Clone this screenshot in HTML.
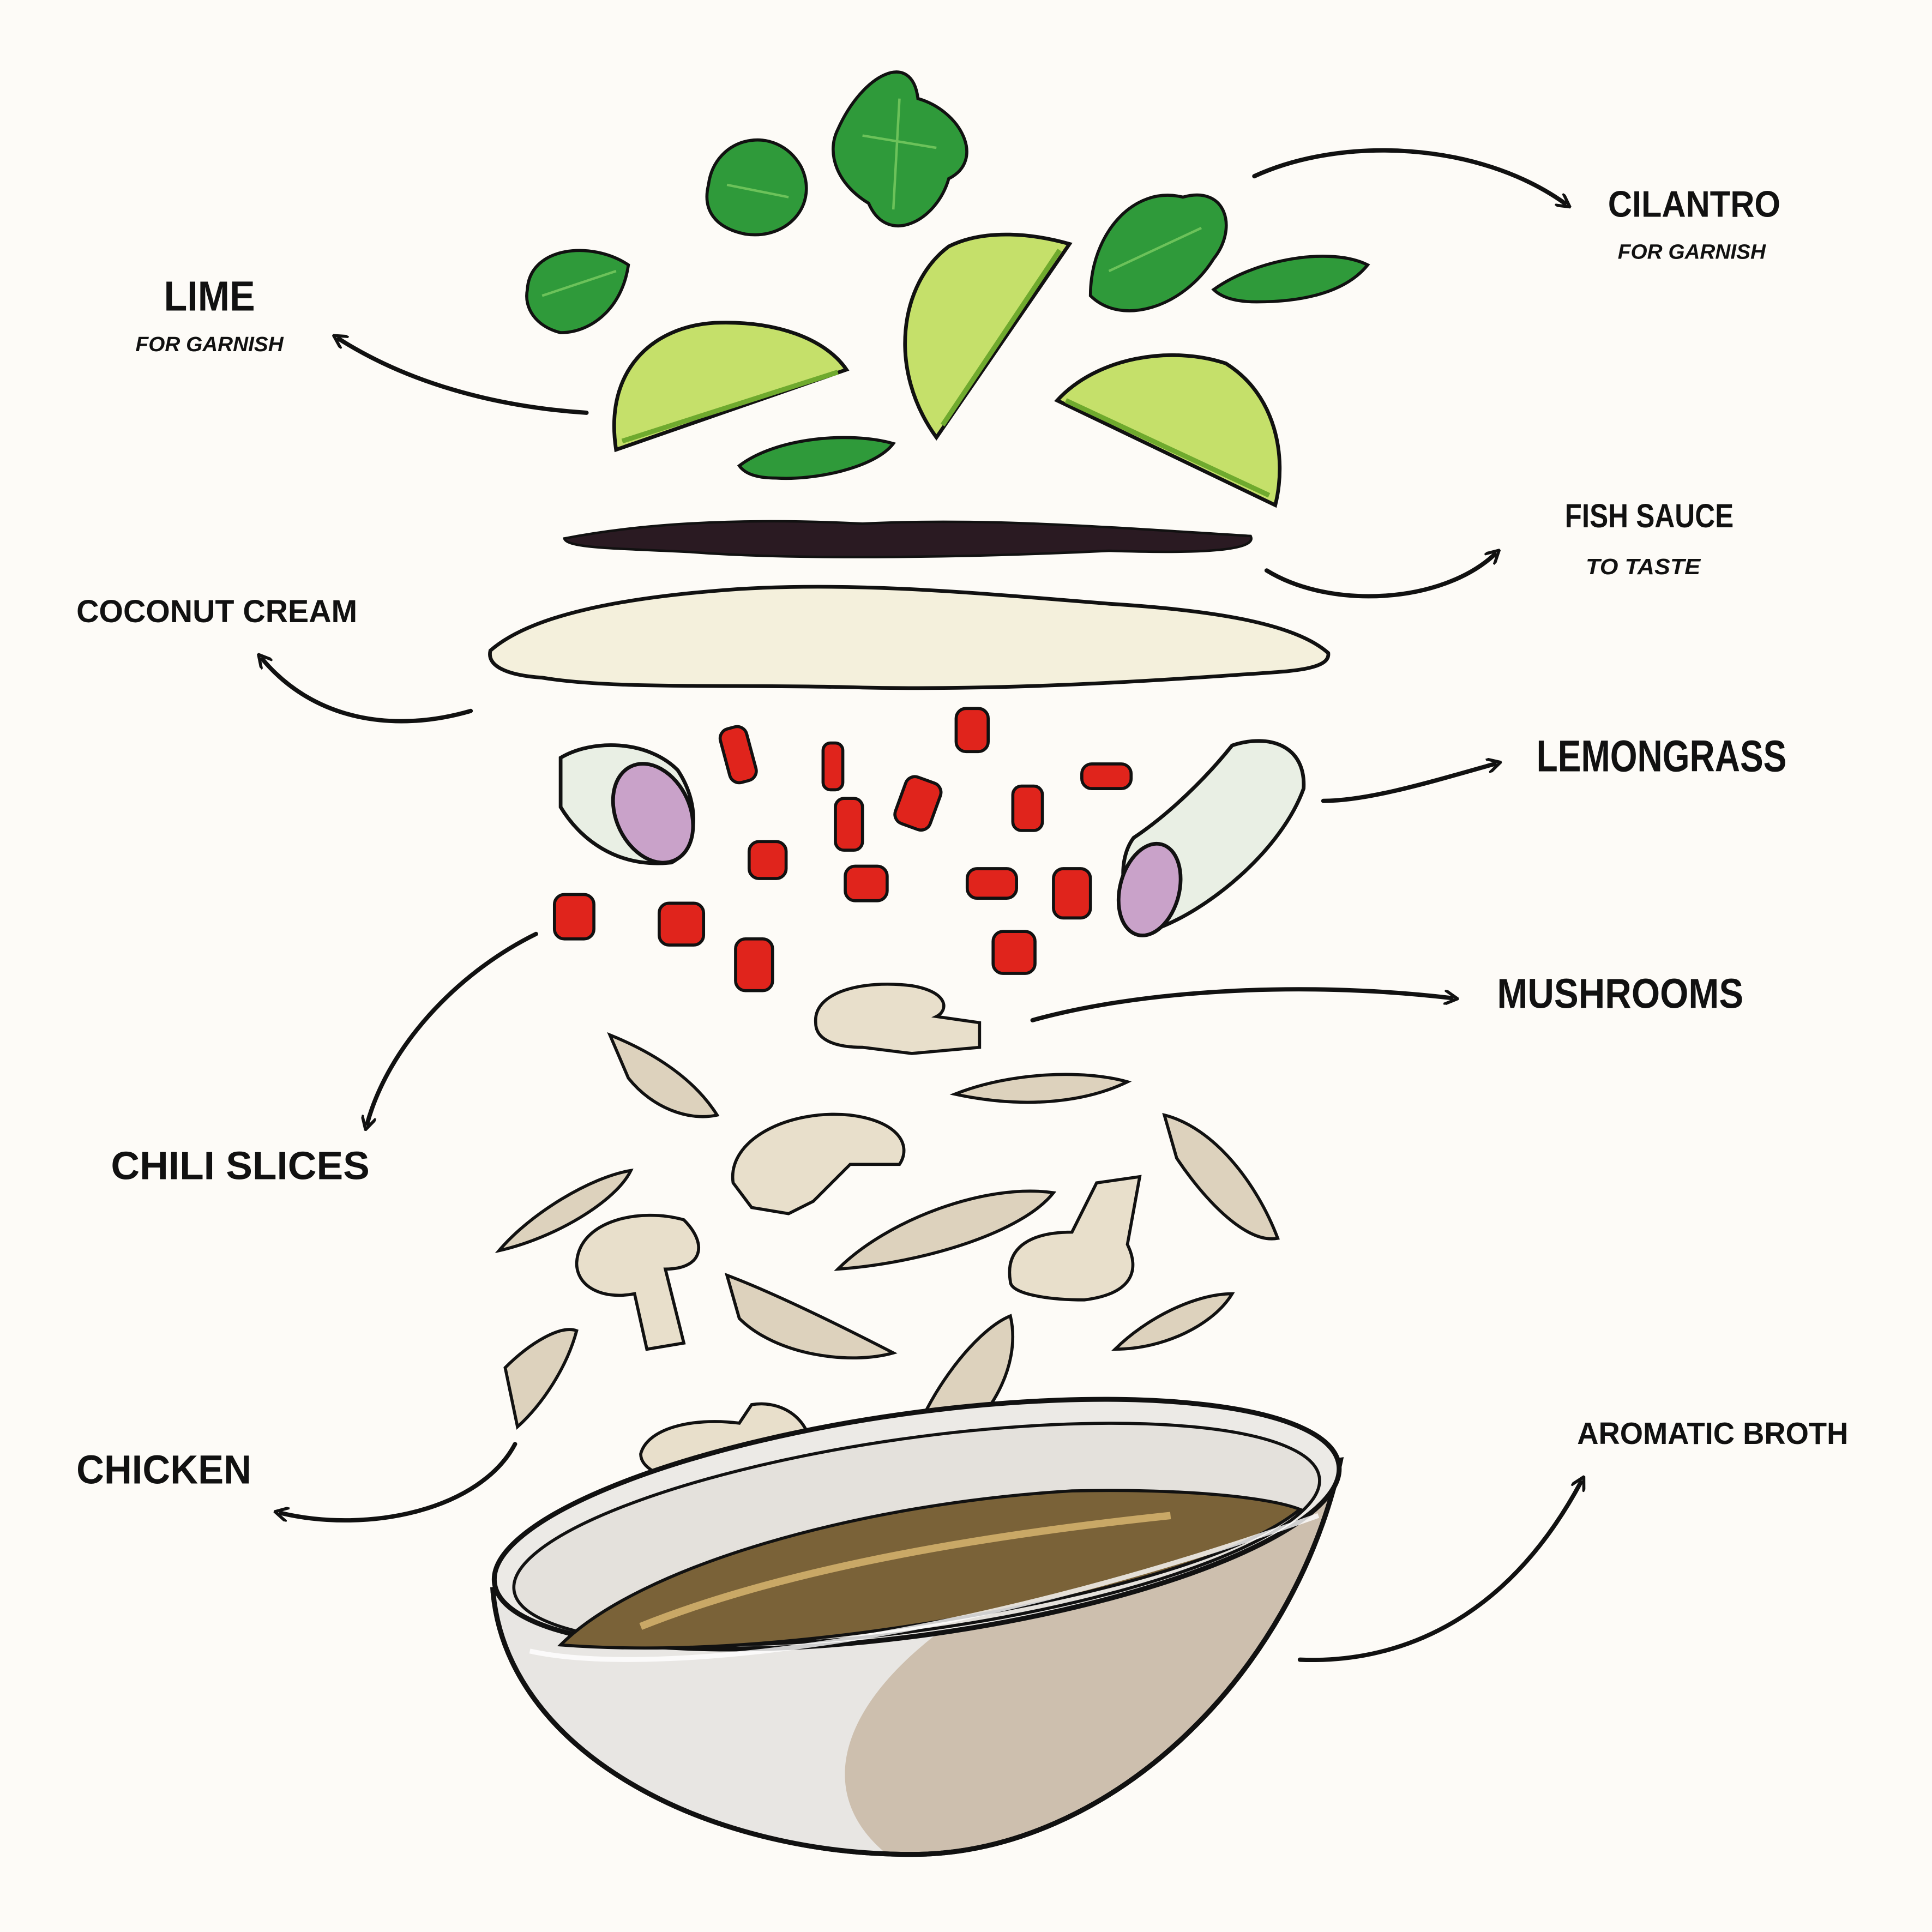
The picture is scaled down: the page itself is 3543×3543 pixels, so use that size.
<!DOCTYPE html>
<html><head><meta charset="utf-8"><style>
html,body{margin:0;padding:0;background:#fdfbf7;}
svg{display:block;}
text{font-family:"Liberation Sans",sans-serif;font-weight:bold;fill:#111;}
</style></head><body>
<svg width="3543" height="3543" viewBox="0 0 1568 1568" xmlns="http://www.w3.org/2000/svg">
<defs>
<marker id="ah" markerWidth="12" markerHeight="12" refX="6" refY="6" orient="auto" markerUnits="userSpaceOnUse" viewBox="0 0 12 12"><path d="M0,0 L11,6 L0,12" fill="none" stroke="#111" stroke-width="2.5" stroke-linecap="round"/></marker>
</defs>
<rect width="1568" height="1568" fill="#fdfbf7"/>
<g fill="none" stroke="#111" stroke-width="3.5" stroke-linecap="round">
<path d="M476,335 C400,330 330,310 275,275" marker-end="url(#ah)"/>
<path d="M1018,143 C1090,110 1200,115 1270,165" marker-end="url(#ah)"/>
<path d="M1028,463 C1080,495 1170,490 1213,450" marker-end="url(#ah)"/>
<path d="M382,577 C320,595 255,585 213,535" marker-end="url(#ah)"/>
<path d="M1074,650 C1110,650 1160,635 1213,620" marker-end="url(#ah)"/>
<path d="M838,828 C920,805 1050,795 1178,810" marker-end="url(#ah)"/>
<path d="M435,758 C370,790 315,850 298,912" marker-end="url(#ah)"/>
<path d="M418,1172 C390,1225 300,1245 228,1228" marker-end="url(#ah)"/>
<path d="M1055,1347 C1130,1350 1220,1320 1283,1203" marker-end="url(#ah)"/>
</g>
<text x="133" y="252" font-size="34" textLength="74" lengthAdjust="spacingAndGlyphs">LIME</text>
<text x="110" y="285" font-size="17" font-style="italic" textLength="120" lengthAdjust="spacingAndGlyphs">FOR GARNISH</text>
<text x="1305" y="176" font-size="30" textLength="140" lengthAdjust="spacingAndGlyphs">CILANTRO</text>
<text x="1313" y="210" font-size="17" font-style="italic" textLength="120" lengthAdjust="spacingAndGlyphs">FOR GARNISH</text>
<text x="1270" y="428" font-size="27" textLength="137" lengthAdjust="spacingAndGlyphs">FISH SAUCE</text>
<text x="1287" y="466" font-size="18" font-style="italic" textLength="93" lengthAdjust="spacingAndGlyphs">TO TASTE</text>
<text x="62" y="505" font-size="26" textLength="228" lengthAdjust="spacingAndGlyphs">COCONUT CREAM</text>
<text x="1247" y="626" font-size="36" textLength="203" lengthAdjust="spacingAndGlyphs">LEMONGRASS</text>
<text x="1215" y="818" font-size="34" textLength="200" lengthAdjust="spacingAndGlyphs">MUSHROOMS</text>
<text x="90" y="957" font-size="32" textLength="210" lengthAdjust="spacingAndGlyphs">CHILI SLICES</text>
<text x="62" y="1204" font-size="33" textLength="142" lengthAdjust="spacingAndGlyphs">CHICKEN</text>
<text x="1280" y="1172" font-size="25" textLength="220" lengthAdjust="spacingAndGlyphs">AROMATIC BROTH</text>
<!-- cilantro -->
<g fill="#2f9a3a" stroke="#111" stroke-width="2.5">
<path d="M575,150 C580,110 630,100 650,135 C665,165 640,195 605,190 C580,185 570,170 575,150Z"/>
<path d="M680,105 C700,60 740,40 745,80 C780,90 800,130 770,145 C760,180 720,200 705,165 C680,150 670,125 680,105Z"/>
<path d="M428,235 C430,200 480,195 510,215 C505,250 480,270 455,270 C435,265 425,250 428,235Z"/>
<path d="M885,240 C885,190 920,150 960,160 C995,150 1005,185 985,210 C960,250 910,265 885,240Z"/>
<path d="M985,235 C1020,210 1080,200 1110,215 C1090,240 1050,245 1020,245 C1000,245 990,240 985,235Z"/>
<path d="M600,378 C630,355 690,350 725,360 C710,380 660,390 630,388 C615,388 605,385 600,378Z"/>
</g>
<g fill="none" stroke="#6cc25a" stroke-width="2">
<path d="M590,150 L640,160"/><path d="M700,110 L760,120 M730,80 L725,170"/><path d="M440,240 L500,220"/><path d="M900,220 L975,185"/>
</g>
<!-- limes -->
<g stroke="#111" stroke-width="3">
<path d="M500,365 C490,300 530,265 580,262 C630,260 670,275 687,300 Z" fill="#c5e06a"/>
<path d="M760,355 C720,300 730,230 770,200 C800,185 840,190 868,198 Z" fill="#c5e06a"/>
<path d="M858,325 C890,290 950,280 995,295 C1035,320 1045,370 1035,410 Z" fill="#c5e06a"/>
</g>
<g fill="none" stroke="#6faa2e" stroke-width="4">
<path d="M505,358 L680,302"/><path d="M765,345 L860,203"/><path d="M865,325 L1030,402"/>
</g>
<!-- fish sauce -->
<path d="M458,437 C520,425 600,420 700,425 C800,420 900,428 1015,435 C1020,445 990,450 900,447 C800,452 650,455 560,448 C500,445 460,445 458,437Z" fill="#2a1a22" stroke="#111" stroke-width="2"/>
<!-- coconut cream -->
<path d="M398,528 C430,500 500,485 600,478 C700,472 800,482 900,490 C980,495 1050,505 1078,530 C1080,545 1040,545 1000,548 C900,555 800,560 700,558 C600,555 500,560 440,550 C410,548 395,540 398,528Z" fill="#f4f0dc" stroke="#111" stroke-width="3"/>
<!-- lemongrass -->
<g stroke="#111" stroke-width="3">
<path d="M455,615 C480,600 525,600 550,625 C570,655 565,690 545,700 C500,705 470,680 455,655Z" fill="#e9efe4"/>
<ellipse cx="530" cy="660" rx="30" ry="42" fill="#c9a2c9" transform="rotate(-25 530 660)"/>
<path d="M1000,605 C1030,595 1060,605 1058,640 C1040,690 980,740 935,755 C910,740 905,700 920,680 C950,660 980,630 1000,605Z" fill="#e9efe4"/>
<ellipse cx="933" cy="722" rx="24" ry="38" fill="#c9a2c9" transform="rotate(15 933 722)"/>
</g>
<!-- chilis -->
<g fill="#e0241c" stroke="#111" stroke-width="2.5">
<rect x="588" y="590" width="22" height="45" rx="8" transform="rotate(-15 599 612)"/>
<rect x="668" y="603" width="16" height="38" rx="6"/>
<rect x="776" y="575" width="26" height="35" rx="8"/>
<rect x="730" y="632" width="30" height="40" rx="8" transform="rotate(20 745 652)"/>
<rect x="678" y="648" width="22" height="42" rx="7"/>
<rect x="822" y="638" width="24" height="36" rx="7"/>
<rect x="878" y="620" width="40" height="20" rx="8"/>
<rect x="608" y="683" width="30" height="30" rx="8"/>
<rect x="686" y="703" width="34" height="28" rx="8"/>
<rect x="785" y="705" width="40" height="24" rx="8"/>
<rect x="855" y="705" width="30" height="40" rx="8"/>
<rect x="450" y="726" width="32" height="36" rx="8"/>
<rect x="535" y="733" width="36" height="34" rx="8"/>
<rect x="597" y="762" width="30" height="42" rx="8"/>
<rect x="806" y="756" width="34" height="34" rx="8"/>
</g>
<!-- mushrooms & chicken -->
<g fill="#e8dfcb" stroke="#111" stroke-width="2.5">
<path d="M662,830 C660,805 700,795 740,800 C770,805 770,820 760,825 L795,830 L795,850 L740,855 L700,850 C680,850 662,845 662,830Z"/>
<path d="M595,960 C590,925 640,900 690,905 C730,910 740,930 730,945 L690,945 L660,975 L640,985 L610,980 Z"/>
<path d="M468,1025 C470,990 520,980 555,990 C575,1010 570,1030 540,1030 L555,1090 L525,1095 L515,1050 C490,1055 468,1045 468,1025Z"/>
<path d="M820,1040 C815,1010 840,1000 870,1000 L890,960 L925,955 L915,1010 C925,1030 920,1050 880,1055 C850,1055 820,1050 820,1040Z"/>
<path d="M520,1180 C525,1160 560,1150 600,1155 L610,1140 C640,1135 665,1160 655,1185 C640,1205 600,1215 570,1210 C545,1200 520,1195 520,1180Z"/>
<path d="M495,840 C520,850 560,870 582,905 C560,910 530,900 510,875 Z" fill="#ddd2bd"/>
<path d="M775,888 C820,870 880,868 915,878 C880,895 830,900 775,888Z" fill="#ddd2bd"/>
<path d="M945,905 C985,915 1020,960 1037,1005 C1010,1010 975,970 955,940 Z" fill="#ddd2bd"/>
<path d="M405,1015 C430,985 480,955 512,950 C500,975 450,1005 405,1015Z" fill="#ddd2bd"/>
<path d="M680,1030 C720,990 800,960 855,968 C830,1000 750,1025 680,1030Z" fill="#ddd2bd"/>
<path d="M590,1035 C630,1050 690,1080 725,1098 C690,1108 630,1100 600,1070 Z" fill="#ddd2bd"/>
<path d="M905,1095 C930,1070 970,1050 1000,1050 C985,1075 945,1095 905,1095Z" fill="#ddd2bd"/>
<path d="M410,1110 C430,1090 455,1075 468,1080 C460,1110 440,1140 420,1158 Z" fill="#ddd2bd"/>
<path d="M735,1190 C745,1140 790,1080 820,1068 C830,1110 800,1160 760,1180 Z" fill="#ddd2bd"/>
</g>
<!-- bowl -->
<path d="M400,1290 C410,1420 570,1505 740,1505 C900,1505 1050,1360 1088,1185 Z" fill="#cdbfae" stroke="#111" stroke-width="4"/>
<path d="M400,1290 C410,1420 570,1505 720,1505 C640,1440 700,1330 900,1250 Z" fill="#e8e6e3"/>
<path d="M400,1290 C410,1420 570,1505 740,1505 C900,1505 1050,1360 1088,1185" fill="none" stroke="#111" stroke-width="4"/>
<ellipse cx="744" cy="1237" rx="346" ry="90" fill="#eceae6" stroke="#111" stroke-width="4" transform="rotate(-8 744 1237)"/>
<ellipse cx="744" cy="1245" rx="330" ry="78" fill="#e4e1dc" stroke="#111" stroke-width="2.5" transform="rotate(-8 744 1245)"/>
<path d="M455,1335 C520,1270 700,1220 870,1210 C960,1208 1030,1215 1055,1225 C1000,1270 850,1305 700,1325 C600,1338 520,1340 455,1335Z" fill="#7a6238" stroke="#111" stroke-width="2.5"/>
<path d="M520,1320 C620,1280 760,1250 950,1230" fill="none" stroke="#c9a866" stroke-width="6"/>
<path d="M430,1340 C520,1360 760,1340 1070,1230" fill="none" stroke="#fff" stroke-width="4" opacity="0.8"/>
</svg>
</body></html>
